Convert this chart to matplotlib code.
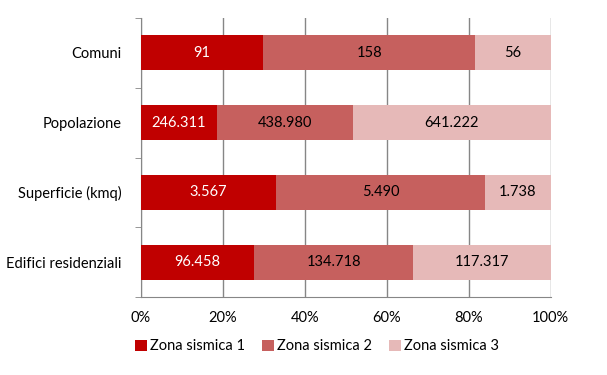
import matplotlib.pyplot as plt
import numpy as np

plt.rcParams['font.family'] = ['Lato', 'DejaVu Sans']

categories = ["Comuni", "Popolazione", "Superficie (kmq)", "Edifici residenziali"]
zona1 = [91, 246311, 3567, 96458]
zona2 = [158, 438980, 5490, 134718]
zona3 = [56, 641222, 1738, 117317]
labels1 = ["91", "246.311", "3.567", "96.458"]
labels2 = ["158", "438.980", "5.490", "134.718"]
labels3 = ["56", "641.222", "1.738", "117.317"]
series_names = ["Zona sismica 1", "Zona sismica 2", "Zona sismica 3"]
colors = ["#C00000", "#C6605E", "#E6B9B8"]
text_colors = ["white", "black", "black"]

fig = plt.figure(figsize=(6.07, 3.75), dpi=100)
ax = fig.add_axes([0.2323, 0.208, 0.6747, 0.744])

data = np.array([zona1, zona2, zona3], dtype=float)
pct = data / data.sum(axis=0) * 100
texts = [labels1, labels2, labels3]
y = np.arange(len(categories))

left = np.zeros(len(categories))
for i in range(3):
    bars = ax.barh(y, pct[i], left=left, height=0.5, color=colors[i],
                   label=series_names[i], zorder=3)
    for j, b in enumerate(bars):
        ax.text(left[j] + pct[i][j] / 2, y[j], texts[i][j], ha='center', va='center',
                color=text_colors[i], fontsize=10.5, zorder=4)
    left += pct[i]

ax.set_xlim(0, 100)
ax.set_ylim(len(categories) - 0.5, -0.5)
ax.set_xticks(np.arange(0, 101, 20))
ax.set_xticklabels([f"{v}%" for v in range(0, 101, 20)], fontsize=10.5)
ax.set_yticks(y)
ax.set_yticklabels(categories, fontsize=10.5)
ax.set_yticks(np.arange(-0.5, len(categories), 1), minor=True)
ax.tick_params(axis='y', which='major', length=0, pad=14)
ax.tick_params(axis='y', which='minor', length=4, color='#868686')
ax.tick_params(axis='x', length=0, pad=10)
ax.grid(axis='x', color='#868686', linewidth=1, zorder=0)
for s in ['top', 'right']:
    ax.spines[s].set_visible(False)
for s in ['left', 'bottom']:
    ax.spines[s].set_color('#868686')

ax.legend(loc='upper center', bbox_to_anchor=(0.43, -0.105), ncol=3, frameon=False,
          fontsize=10.5, handlelength=0.8, handleheight=0.8, handletextpad=0.2,
          columnspacing=1.2)

fig.savefig("out.png", dpi=100)
